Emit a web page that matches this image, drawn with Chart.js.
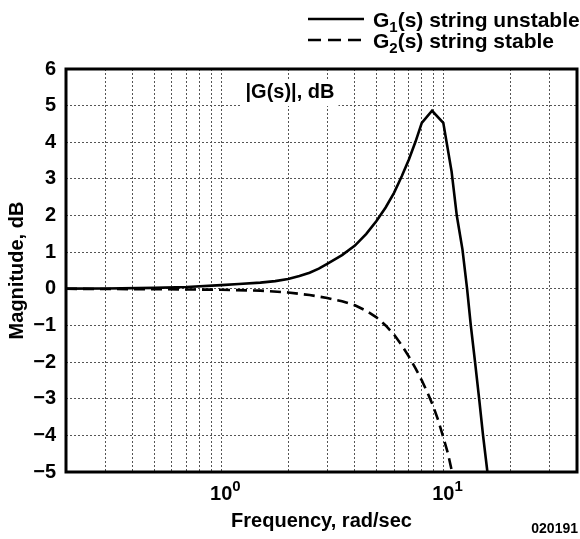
<!DOCTYPE html>
<html>
<head>
<meta charset="utf-8">
<script src="https://cdn.jsdelivr.net/npm/chart.js@4.4.0/dist/chart.umd.min.js"></script>
<style>
  body { margin: 0; background: #fff; }
  canvas { display: block; }
</style>
</head>
<body>
<canvas id="gain-chart" width="580" height="539"></canvas>
<script>
const FONT = '"Liberation Sans", Arial, Helvetica, sans-serif';

// G1(s), string unstable: magnitude in dB vs frequency in rad/sec
const freqG1 = [0.2, 0.3, 0.5, 0.7, 1.0, 1.2, 1.5, 1.75, 2.0, 2.25, 2.5, 2.75, 3.0, 3.5, 4.0, 4.5, 5.0, 5.5, 6.0, 6.5, 7.0, 7.5, 8.0, 8.9, 10.0, 10.9, 11.5, 12.2, 12.8, 13.3, 13.9, 14.5, 15.1, 15.8];
const magG1 = [0.005, 0.01, 0.025, 0.05, 0.1, 0.13, 0.17, 0.21, 0.27, 0.35, 0.44, 0.55, 0.68, 0.92, 1.18, 1.5, 1.85, 2.22, 2.62, 3.07, 3.53, 4.02, 4.53, 4.86, 4.53, 3.2, 2.0, 1.07, 0, -1, -2, -3, -4, -5];

// G2(s), string stable
const freqG2 = [0.2, 0.5, 1.0, 1.5, 2.0, 2.5, 3.0, 3.5, 4.0, 4.5, 5.0, 5.5, 6.0, 6.5, 7.0, 7.5, 8.0, 8.5, 9.0, 9.5, 10.0, 10.5, 10.95];
const magG2 = [0, -0.01, -0.025, -0.05, -0.1, -0.17, -0.25, -0.34, -0.45, -0.6, -0.78, -1.0, -1.25, -1.54, -1.85, -2.17, -2.5, -2.84, -3.2, -3.6, -4.05, -4.5, -5.0];

// grid lines on the log axis and the decade labels under it
const xGridValues = [0.2, 0.3, 0.4, 0.5, 0.6, 0.7, 0.8, 0.9, 1, 2, 3, 4, 5, 6, 7, 8, 9, 10, 20, 30, 40];
const xLabelValues = [1, 10];
const xLabelExponents = ['0', '1'];

const legendItems = [
  { sub: '1', text: '(s) string unstable', dash: [] },
  { sub: '2', text: '(s) string stable', dash: [13, 7] },
];

const toPoints = (xs, ys) => xs.map((x, i) => ({ x: x, y: ys[i] }));

const gainData = {
  datasets: [
    {
      label: 'G1(s) string unstable',
      data: toPoints(freqG1, magG1),
      borderColor: '#000',
      borderWidth: 2.6,
      pointRadius: 0,
      tension: 0,
    },
    {
      label: 'G2(s) string stable',
      data: toPoints(freqG2, magG2),
      borderColor: '#000',
      borderWidth: 2.6,
      borderDash: [11, 6],
      pointRadius: 0,
      tension: 0,
    },
  ]
};

// frame, legend, decade labels and the in-plot caption
const decorations = {
  id: 'decorations',
  beforeDatasetsDraw(chart) {
    const { ctx } = chart;
    ctx.save();
    ctx.font = `bold 20px ${FONT}`;
    const caption = '|G(s)|, dB';
    const w = ctx.measureText(caption).width;
    const cx = 290, cy = 98;
    ctx.fillStyle = '#fff';
    ctx.fillRect(cx - w / 2 - 4, cy - 19, w + 8, 27);
    ctx.fillStyle = '#000';
    ctx.textAlign = 'center';
    ctx.fillText(caption, cx, cy);
    ctx.restore();
  },
  afterDraw(chart) {
    const { ctx, chartArea: a } = chart;
    const xScale = chart.scales.x;
    ctx.save();

    ctx.strokeStyle = '#000';
    ctx.lineWidth = 3;
    ctx.strokeRect(a.left, a.top, a.right - a.left, a.bottom - a.top);

    ctx.fillStyle = '#000';
    ctx.textBaseline = 'alphabetic';
    xLabelValues.forEach((v, i) => {
      const px = xScale.getPixelForValue(v);
      ctx.font = `bold 20px ${FONT}`;
      ctx.textAlign = 'center';
      ctx.fillText('10', px, a.bottom + 28);
      const w = ctx.measureText('10').width;
      ctx.font = `bold 15px ${FONT}`;
      ctx.textAlign = 'left';
      ctx.fillText(xLabelExponents[i], px + w / 2, a.bottom + 19);
    });

    legendItems.forEach((item, i) => {
      const y = 19 + i * 21;
      ctx.lineWidth = 2.4;
      ctx.setLineDash(item.dash);
      ctx.beginPath();
      ctx.moveTo(308, y);
      ctx.lineTo(364, y);
      ctx.stroke();
      ctx.setLineDash([]);
      let x = 373;
      ctx.textAlign = 'left';
      ctx.font = `bold 21px ${FONT}`;
      ctx.fillText('G', x, y + 8);
      x += ctx.measureText('G').width;
      ctx.font = `bold 15px ${FONT}`;
      ctx.fillText(item.sub, x, y + 13);
      x += ctx.measureText(item.sub).width;
      ctx.font = `bold 21px ${FONT}`;
      ctx.fillText(item.text, x, y + 8);
    });

    ctx.font = `bold 14px ${FONT}`;
    ctx.textAlign = 'right';
    ctx.fillText('020191', 578, 533);
    ctx.restore();
  }
};

const gainConfig = {
  type: 'line',
  data: gainData,
  options: {
    responsive: false,
    animation: false,
    layout: {
      padding: { top: 69, right: 3, left: 0, bottom: 0 }
    },
    plugins: {
      legend: { display: false },
      tooltip: { enabled: false },
    },
    scales: {
      x: {
        type: 'logarithmic',
        min: 0.2,
        max: 40,
        afterBuildTicks: (scale) => { scale.ticks = xGridValues.map(v => ({ value: v })); },
        afterFit: (scale) => { scale.height = 67; },
        grid: { color: '#555', lineWidth: 1, drawTicks: false },
        border: { display: false, dash: [2, 2] },
        ticks: { display: false },
        title: {
          display: true,
          text: 'Frequency, rad/sec',
          color: '#000',
          font: { family: FONT, size: 20, weight: 'bold' },
          padding: { top: 0, bottom: 6 },
        },
      },
      y: {
        min: -5,
        max: 6,
        afterFit: (scale) => { scale.width = 66; },
        grid: { color: '#555', lineWidth: 1, drawTicks: false },
        border: { display: false, dash: [2, 2] },
        ticks: {
          stepSize: 1,
          padding: 10,
          color: '#000',
          font: { family: FONT, size: 20, weight: 'bold' },
          callback: (v) => v < 0 ? '\u2212' + Math.abs(v) : String(v),
        },
        title: {
          display: true,
          text: 'Magnitude, dB',
          color: '#000',
          font: { family: FONT, size: 20, weight: 'bold' },
          padding: { top: 5, bottom: 0 },
        },
      },
    },
  },
  plugins: [decorations],
};

const gainChart = new Chart(
  document.getElementById('gain-chart'),
  gainConfig
);
</script>
</body>
</html>
